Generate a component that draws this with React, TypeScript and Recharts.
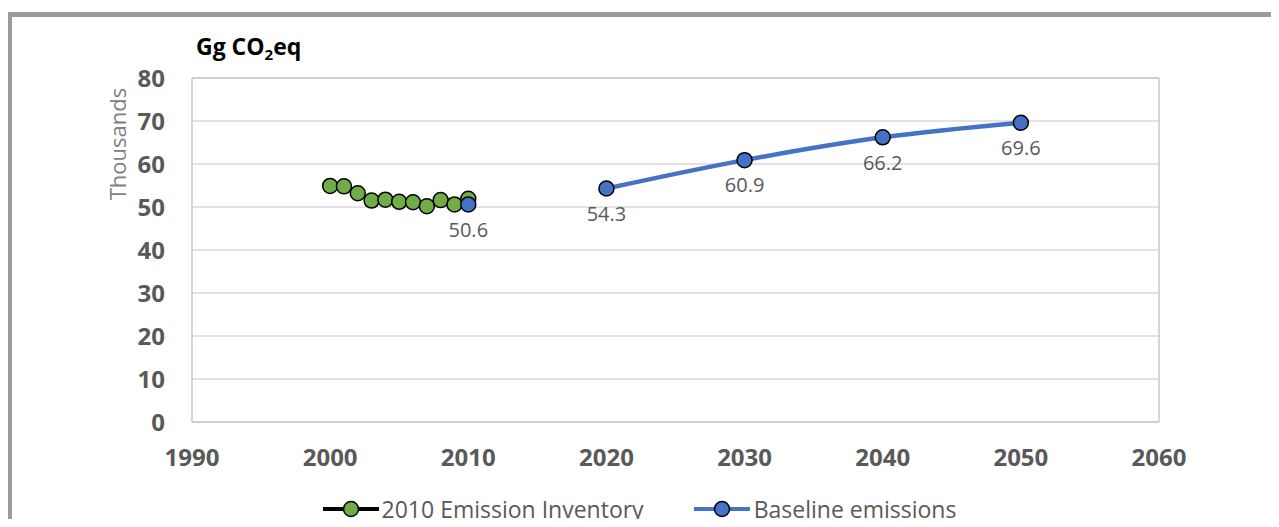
import React from 'react';
import { LineChart, Line, XAxis, YAxis, CartesianGrid, ReferenceLine, LabelList, Legend } from 'recharts';

// 2010 emission inventory, yearly values (thousand Gg CO2eq)
const inventoryYears = [2000, 2001, 2002, 2003, 2004, 2005, 2006, 2007, 2008, 2009, 2010];
const inventoryValues = [54.9, 54.8, 53.2, 51.5, 51.7, 51.2, 51.1, 50.2, 51.6, 50.6, 51.9];

// Baseline projection; the null in 2015 breaks the line between 2010 and 2020
const baselineYears = [2010, 2015, 2020, 2030, 2040, 2050];
const baselineValues: (number | null)[] = [50.6, null, 54.3, 60.9, 66.2, 69.6];

const xTicks = [1990, 2000, 2010, 2020, 2030, 2040, 2050, 2060];
const yTicks = [0, 10, 20, 30, 40, 50, 60, 70, 80];

const inventoryData = inventoryYears.map((year, i) => ({ year, value: inventoryValues[i] }));
const baselineData = baselineYears.map((year, i) => ({ year, value: baselineValues[i] }));

const GREEN = '#70AD47';
const BLUE = '#4472C4';
const TEXT = '#595959';
const FONT = '"Open Sans", sans-serif';

const LegendIcon = ({ line, fill }: { line: string; fill: string }) => (
  <svg width={56} height={20} style={{ display: 'block' }}>
    <line x1={0} y1={10} x2={56} y2={10} stroke={line} strokeWidth={4} />
    <circle cx={28} cy={10} r={7.5} fill={fill} stroke="#000" strokeWidth={1.5} />
  </svg>
);

const CustomLegend = () => (
  <div
    style={{
      display: 'flex',
      justifyContent: 'center',
      alignItems: 'center',
      height: 30,
      fontFamily: FONT,
      fontSize: 23,
      color: TEXT,
    }}
  >
    <LegendIcon line="#000" fill={GREEN} />
    <span style={{ marginLeft: 3, marginRight: 50 }}>2010 Emission Inventory</span>
    <LegendIcon line={BLUE} fill={BLUE} />
    <span style={{ marginLeft: 4 }}>Baseline emissions</span>
  </div>
);

export default function App() {
  return (
    <div style={{ position: 'relative', width: 1279, height: 527, margin: -8, background: '#fff', overflow: 'hidden' }}>
      <div
        style={{
          position: 'absolute',
          left: 7,
          top: 12,
          width: 1300,
          height: 600,
          borderTop: '5px solid #9a9a9a',
          borderLeft: '5px solid #9a9a9a',
        }}
      />
      <div
        style={{
          position: 'absolute',
          left: 196,
          top: 30,
          fontFamily: FONT,
          fontWeight: 700,
          fontSize: 23,
          color: '#000',
          lineHeight: '32px',
        }}
      >
        Gg CO<sub style={{ fontSize: 15, verticalAlign: '-5px' }}>2</sub>eq
      </div>
      <div
        style={{
          position: 'absolute',
          left: 117,
          top: 144,
          transform: 'translate(-50%, -50%) rotate(-90deg)',
          fontFamily: FONT,
          fontSize: 22,
          color: '#808080',
          whiteSpace: 'nowrap',
        }}
      >
        Thousands
      </div>
      <div style={{ position: 'absolute', left: 0, top: 0 }}>
        <LineChart width={1279} height={527} margin={{ top: 78, right: 120, left: 132, bottom: 35 }}>
          <CartesianGrid vertical={false} stroke="#d9d9d9" strokeWidth={1.5} />
          <XAxis
            dataKey="year"
            type="number"
            domain={[1990, 2060]}
            ticks={xTicks}
            allowDuplicatedCategory={false}
            axisLine={false}
            tickLine={false}
            tickSize={0}
            tickMargin={27}
            height={40}
            tick={{ fill: TEXT, fontFamily: FONT, fontWeight: 700, fontSize: 24 }}
          />
          <YAxis
            type="number"
            domain={[0, 80]}
            ticks={yTicks}
            axisLine={false}
            tickLine={false}
            tickSize={0}
            tickMargin={27}
            width={60}
            tick={{ fill: TEXT, fontFamily: FONT, fontWeight: 700, fontSize: 24 }}
          />
          <ReferenceLine x={1990} stroke="#c8c8c8" strokeWidth={1.5} />
          <ReferenceLine x={2060} stroke="#c8c8c8" strokeWidth={1.5} />
          <ReferenceLine y={0} stroke="#c8c8c8" strokeWidth={1.5} />
          <ReferenceLine y={80} stroke="#c8c8c8" strokeWidth={1.5} />
          <Line
            data={inventoryData}
            dataKey="value"
            name="2010 Emission Inventory"
            type="linear"
            stroke="#000"
            strokeWidth={3}
            dot={{ r: 7.5, fill: GREEN, stroke: '#000', strokeWidth: 1.5 }}
            isAnimationActive={false}
          />
          <Line
            data={baselineData}
            dataKey="value"
            name="Baseline emissions"
            type="monotone"
            stroke={BLUE}
            strokeWidth={4.5}
            connectNulls={false}
            dot={{ r: 7.5, fill: BLUE, stroke: '#000', strokeWidth: 1.5 }}
            isAnimationActive={false}
          >
            <LabelList
              dataKey="value"
              position="bottom"
              offset={18}
              formatter={(v: any) => (v == null ? '' : Number(v).toFixed(1))}
              style={{ fill: TEXT, fontFamily: FONT, fontSize: 20 }}
            />
          </Line>
          <Legend
            content={<CustomLegend />}
            verticalAlign="bottom"
            wrapperStyle={{ left: 0, width: 1279, top: 494 }}
          />
        </LineChart>
      </div>
    </div>
  );
}
